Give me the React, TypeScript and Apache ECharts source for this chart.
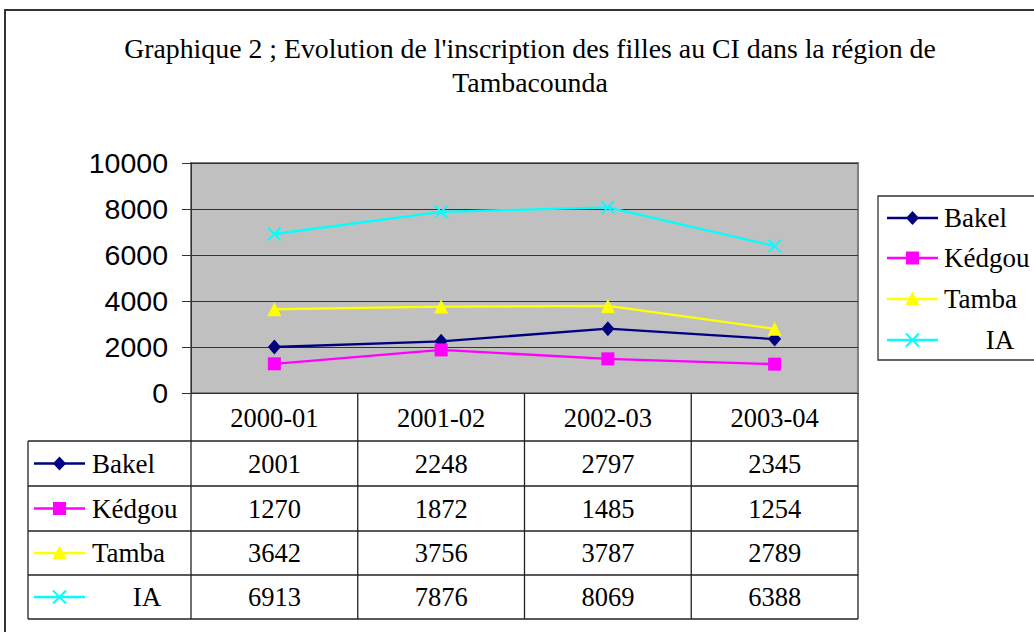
import React, { useEffect, useRef } from "react";
import * as echarts from "echarts";

const categories = ["2000-01", "2001-02", "2002-03", "2003-04"];
const seriesNames = ["Bakel", "Kédgou", "Tamba", "IA"];
const bakel = [2001, 2248, 2797, 2345];
const kedgou = [1270, 1872, 1485, 1254];
const tamba = [3642, 3756, 3787, 2789];
const ia = [6913, 7876, 8069, 6388];
const yMin = 0;
const yMax = 10000;
const yInterval = 2000;
const titleLines = [
  "Graphique 2 ; Evolution de l'inscription des filles au CI dans la région de",
  "Tambacounda",
];

const colors = ["#000080", "#ff00ff", "#ffff00", "#00ffff"];
const kinds = ["diamond", "square", "triangle", "x"];
const XPATH = "path://M0,1 L1,0 L5,4 L9,0 L10,1 L6,5 L10,9 L9,10 L5,6 L1,10 L0,9 L4,5 Z";
const symbols = ["diamond", "rect", "triangle", XPATH];
const symbolSizes: any[] = [[13, 15], 13, [14, 14], 14];

const SERIF = "'Liberation Serif', 'Times New Roman', serif";
const SANS = "'Liberation Sans', Arial, sans-serif";

const G = { left: 191, top: 163, width: 667, height: 230 };

function marker(kind: string, cx: number, cy: number, color: string): any[] {
  if (kind === "diamond") {
    return [{ type: "polygon", shape: { points: [[cx, cy - 7], [cx + 6.5, cy], [cx, cy + 7], [cx - 6.5, cy]] }, style: { fill: color }, silent: true }];
  }
  if (kind === "square") {
    return [{ type: "rect", shape: { x: cx - 6.5, y: cy - 6.5, width: 13, height: 13 }, style: { fill: color }, silent: true }];
  }
  if (kind === "triangle") {
    return [{ type: "polygon", shape: { points: [[cx, cy - 7.5], [cx + 7, cy + 6], [cx - 7, cy + 6]] }, style: { fill: color }, silent: true }];
  }
  return [
    { type: "line", shape: { x1: cx - 6.5, y1: cy - 6.5, x2: cx + 6.5, y2: cy + 6.5 }, style: { stroke: color, lineWidth: 2 }, silent: true },
    { type: "line", shape: { x1: cx + 6.5, y1: cy - 6.5, x2: cx - 6.5, y2: cy + 6.5 }, style: { stroke: color, lineWidth: 2 }, silent: true },
  ];
}

function key(i: number, x1: number, x2: number, cy: number): any[] {
  return [
    { type: "line", shape: { x1, y1: cy, x2, y2: cy }, style: { stroke: colors[i], lineWidth: 2.3 }, silent: true },
    ...marker(kinds[i], (x1 + x2) / 2, cy, colors[i]),
  ];
}

function text(t: string, x: number, y: number, size: number, align: string, family = SERIF): any {
  return {
    type: "text",
    x,
    y,
    silent: true,
    style: { text: t, fontSize: size, fontFamily: family, fill: "#000", align, verticalAlign: "middle" },
  };
}

function line(x1: number, y1: number, x2: number, y2: number, color = "#222", w = 1.3): any {
  return { type: "line", shape: { x1, y1, x2, y2 }, style: { stroke: color, lineWidth: w }, silent: true };
}

export default function App() {
  const ref = useRef<HTMLDivElement>(null);
  useEffect(() => {
    if (!ref.current) return;
    const chart = echarts.init(ref.current, null, { renderer: "svg" });
    const data = [bakel, kedgou, tamba, ia];
    chart.setOption({
      animation: false,
      backgroundColor: "#ffffff",
      grid: {
        left: G.left,
        top: G.top,
        width: G.width,
        height: G.height,
        show: true,
        backgroundColor: "#c0c0c0",
        borderColor: "#808080",
        borderWidth: 2,
        containLabel: false,
      },
      xAxis: {
        type: "category",
        data: categories,
        boundaryGap: true,
        axisLabel: { show: false },
        axisTick: { show: false },
        axisLine: { show: false },
        splitLine: { show: false },
      },
      yAxis: {
        type: "value",
        min: yMin,
        max: yMax,
        interval: yInterval,
        axisLine: { show: true, lineStyle: { color: "#333", width: 1 } },
        axisTick: { show: true, length: 9, lineStyle: { color: "#333", width: 1 } },
        axisLabel: {
          margin: 23,
          color: "#000",
          fontSize: 28.5,
          fontFamily: SANS,
          formatter: (v: number) => String(v),
        },
        splitLine: { show: true, lineStyle: { color: "#333", width: 1 } },
      },
      series: seriesNames.map((name, i) => ({
        name,
        type: "line",
        data: data[i],
        symbol: symbols[i],
        symbolSize: symbolSizes[i],
        showSymbol: true,
        lineStyle: { color: colors[i], width: 2.3 },
        itemStyle: { color: colors[i] },
        z: 3,
      })),
    });

    const xs = categories.map((c) => chart.convertToPixel({ xAxisIndex: 0 }, c) as number);
    const right = G.left + G.width;
    const bottom = G.top + G.height;
    const rowLines = [441, 486, 531, 575, 619];
    const tableLeft = 28;
    const colW = G.width / categories.length;
    const els: any[] = [];

    // outer border
    els.push({ type: "rect", shape: { x: 5, y: 10, width: 1200, height: 800 }, style: { fill: "none", stroke: "#333", lineWidth: 2 }, silent: true });
    // title
    titleLines.forEach((t, i) => els.push(text(t, 530, 48 + i * 34, 27.8, "center")));

    // table verticals
    for (let k = 0; k <= categories.length; k++) {
      const x = G.left + k * colW;
      els.push(line(x, bottom, x, rowLines[rowLines.length - 1]));
    }
    els.push(line(tableLeft, rowLines[0], tableLeft, rowLines[rowLines.length - 1]));
    rowLines.forEach((y) => els.push(line(tableLeft, y, right, y)));
    // header
    categories.forEach((c, j) => els.push(text(c, xs[j], (bottom + rowLines[0]) / 2 + 1, 26.5, "center")));
    // rows
    seriesNames.forEach((name, i) => {
      const cy = (rowLines[i] + rowLines[i + 1]) / 2;
      els.push(...key(i, 34, 85, cy));
      if (name === "IA") els.push(text(name, 147, cy, 27, "center"));
      else els.push(text(name, 92, cy, 27, "left"));
      data[i].forEach((v, j) => els.push(text(String(v), xs[j], cy, 26.5, "center")));
    });

    // legend box
    els.push({ type: "rect", shape: { x: 878, y: 196, width: 160, height: 164 }, style: { fill: "#fff", stroke: "#333", lineWidth: 1.3 }, silent: true });
    const legendYs = [218, 258, 299, 340];
    seriesNames.forEach((name, i) => {
      els.push(...key(i, 887, 938, legendYs[i]));
      if (name === "IA") els.push(text(name, 1000, legendYs[i], 27, "center"));
      else els.push(text(name, 944, legendYs[i], 27, "left"));
    });

    chart.setOption({ graphic: { elements: els } });
    return () => chart.dispose();
  }, []);
  return <div ref={ref} style={{ position: "fixed", left: 0, top: 0, width: 1034, height: 632 }} />;
}
